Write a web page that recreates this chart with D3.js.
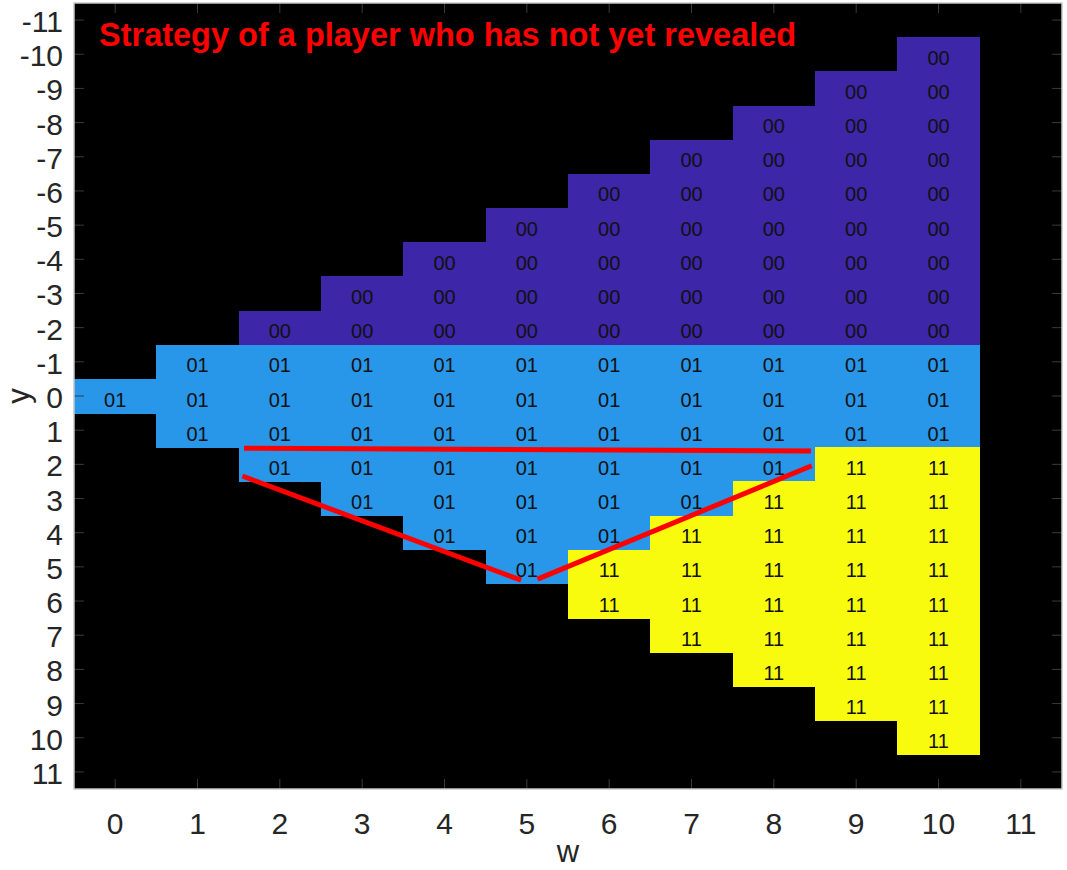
<!DOCTYPE html>
<html>
<head>
<meta charset="utf-8">
<script src="https://cdn.jsdelivr.net/npm/d3@7"></script>
<style>
  body { margin: 0; background: #fff; }
  svg { display: block; font-family: "Liberation Sans", Arial, Helvetica, sans-serif; }
</style>
</head>
<body>
<svg id="chart" width="1067" height="870"></svg>
<script>
// strategy map: columns are w, rows are y
const wValues = [0, 1, 2, 3, 4, 5, 6, 7, 8, 9, 10];
const yValues = d3.range(-11, 12);
const xTickLabels = ["0", "1", "2", "3", "4", "5", "6", "7", "8", "9", "10", "11"];
const yTickLabels = ["-11", "-10", "-9", "-8", "-7", "-6", "-5", "-4", "-3", "-2", "-1",
                     "0", "1", "2", "3", "4", "5", "6", "7", "8", "9", "10", "11"];

// one string per y row (-11 .. 11), one token per w (0 .. 10); "." = no value
const gridRows = [
    ". . . . . . . . . . .",   // -11
    ". . . . . . . . . . 00",  // -10
    ". . . . . . . . . 00 00", // -9
    ". . . . . . . . 00 00 00",
    ". . . . . . . 00 00 00 00",
    ". . . . . . 00 00 00 00 00",
    ". . . . . 00 00 00 00 00 00",
    ". . . . 00 00 00 00 00 00 00",
    ". . . 00 00 00 00 00 00 00 00",
    ". . 00 00 00 00 00 00 00 00 00", // -2
    ". 01 01 01 01 01 01 01 01 01 01", // -1
    "01 01 01 01 01 01 01 01 01 01 01", // 0
    ". 01 01 01 01 01 01 01 01 01 01", // 1
    ". . 01 01 01 01 01 01 01 11 11",  // 2
    ". . . 01 01 01 01 01 11 11 11",   // 3
    ". . . . 01 01 01 11 11 11 11",    // 4
    ". . . . . 01 11 11 11 11 11",     // 5
    ". . . . . . 11 11 11 11 11",      // 6
    ". . . . . . . 11 11 11 11",       // 7
    ". . . . . . . . 11 11 11",        // 8
    ". . . . . . . . . 11 11",         // 9
    ". . . . . . . . . . 11",          // 10
    ". . . . . . . . . . ."            // 11
];

const codeColors = { "00": "#3d26a8", "01": "#2896e9", "11": "#f9fb0e" };

// red guide lines, in data units [w, y]
const guideLines = [
    [[1.565, 1.53], [8.45, 1.61]],
    [[1.545, 2.34], [4.93, 5.39]],
    [[5.13, 5.36], [8.46, 2.04]]
];

const titleText = "Strategy of a player who has not yet revealed";

const svg = d3.select("#chart");
const plot = { left: 74, top: 3, width: 988, height: 786 };

const x = d3.scaleLinear().domain([-0.5, 11.5]).range([plot.left, plot.left + plot.width]);
const y = d3.scaleLinear().domain([-11.5, 11.5]).range([plot.top, plot.top + plot.height]);

const cells = [];
gridRows.forEach((row, i) => {
    row.split(" ").forEach((code, j) => {
        if (code !== ".") cells.push({ w: wValues[j], y: yValues[i], code });
    });
});

// background
svg.append("rect")
    .attr("x", plot.left).attr("y", plot.top)
    .attr("width", plot.width).attr("height", plot.height)
    .attr("fill", "#000");

const cw = x(1) - x(0), ch = y(1) - y(0);

svg.append("g").selectAll("rect")
    .data(cells)
    .join("rect")
    .attr("x", d => x(d.w - 0.5))
    .attr("y", d => y(d.y - 0.5))
    .attr("width", cw + 0.5)
    .attr("height", ch + 0.5)
    .attr("fill", d => codeColors[d.code])
    .attr("shape-rendering", "crispEdges");

svg.append("g").selectAll("text")
    .data(cells)
    .join("text")
    .attr("x", d => x(d.w))
    .attr("y", d => y(d.y) + 10.5)
    .attr("text-anchor", "middle")
    .attr("font-size", 20)
    .attr("fill", "#111")
    .text(d => d.code);

// guide lines
const line = d3.line().x(d => x(d[0])).y(d => y(d[1]));
svg.append("g").selectAll("path")
    .data(guideLines)
    .join("path")
    .attr("d", line)
    .attr("stroke", "#ff0000")
    .attr("stroke-width", 5)
    .attr("fill", "none");

// axes, ticks point inward
const tickColor = "#3a3a3a";
const labelColor = "#262626";
const xTicks = d3.range(0, 12);
const yTicks = d3.range(-11, 12);

const axes = svg.append("g");
axes.selectAll(".xt")
    .data(xTicks)
    .join("g")
    .each(function(v) {
        const g = d3.select(this);
        g.append("line").attr("x1", x(v)).attr("x2", x(v))
            .attr("y1", plot.top + plot.height).attr("y2", plot.top + plot.height - 10)
            .attr("stroke", tickColor);
        g.append("line").attr("x1", x(v)).attr("x2", x(v))
            .attr("y1", plot.top).attr("y2", plot.top + 10)
            .attr("stroke", tickColor);
    });

axes.selectAll(".yt")
    .data(yTicks)
    .join("g")
    .each(function(v) {
        const g = d3.select(this);
        g.append("line").attr("y1", y(v)).attr("y2", y(v))
            .attr("x1", plot.left).attr("x2", plot.left + 10)
            .attr("stroke", tickColor);
        g.append("line").attr("y1", y(v)).attr("y2", y(v))
            .attr("x1", plot.left + plot.width).attr("x2", plot.left + plot.width - 10)
            .attr("stroke", tickColor);
    });

axes.selectAll(".xl")
    .data(xTicks)
    .join("text")
    .attr("x", v => x(v))
    .attr("y", 834)
    .attr("text-anchor", "middle")
    .attr("font-size", 30)
    .attr("fill", labelColor)
    .text((v, i) => xTickLabels[i]);

axes.selectAll(".yl")
    .data(yTicks)
    .join("text")
    .attr("x", 63)
    .attr("y", v => y(v) + 12)
    .attr("text-anchor", "end")
    .attr("font-size", 30)
    .attr("fill", labelColor)
    .text((v, i) => yTickLabels[i]);

// box
svg.append("rect")
    .attr("x", plot.left).attr("y", plot.top)
    .attr("width", plot.width).attr("height", plot.height)
    .attr("fill", "none")
    .attr("stroke", "#c8c8c8")
    .attr("stroke-width", 1.5);

// axis titles
svg.append("text")
    .attr("x", x(5.5)).attr("y", 862)
    .attr("text-anchor", "middle")
    .attr("font-size", 31)
    .attr("fill", labelColor)
    .text("w");

svg.append("text")
    .attr("transform", `translate(29, ${y(0)}) rotate(-90)`)
    .attr("text-anchor", "middle")
    .attr("font-size", 31)
    .attr("fill", labelColor)
    .text("y");

// title
svg.append("text")
    .attr("x", 99).attr("y", 46)
    .attr("font-size", 32.5)
    .attr("font-weight", "bold")
    .attr("fill", "#ff0000")
    .text(titleText);
</script>
</body>
</html>
